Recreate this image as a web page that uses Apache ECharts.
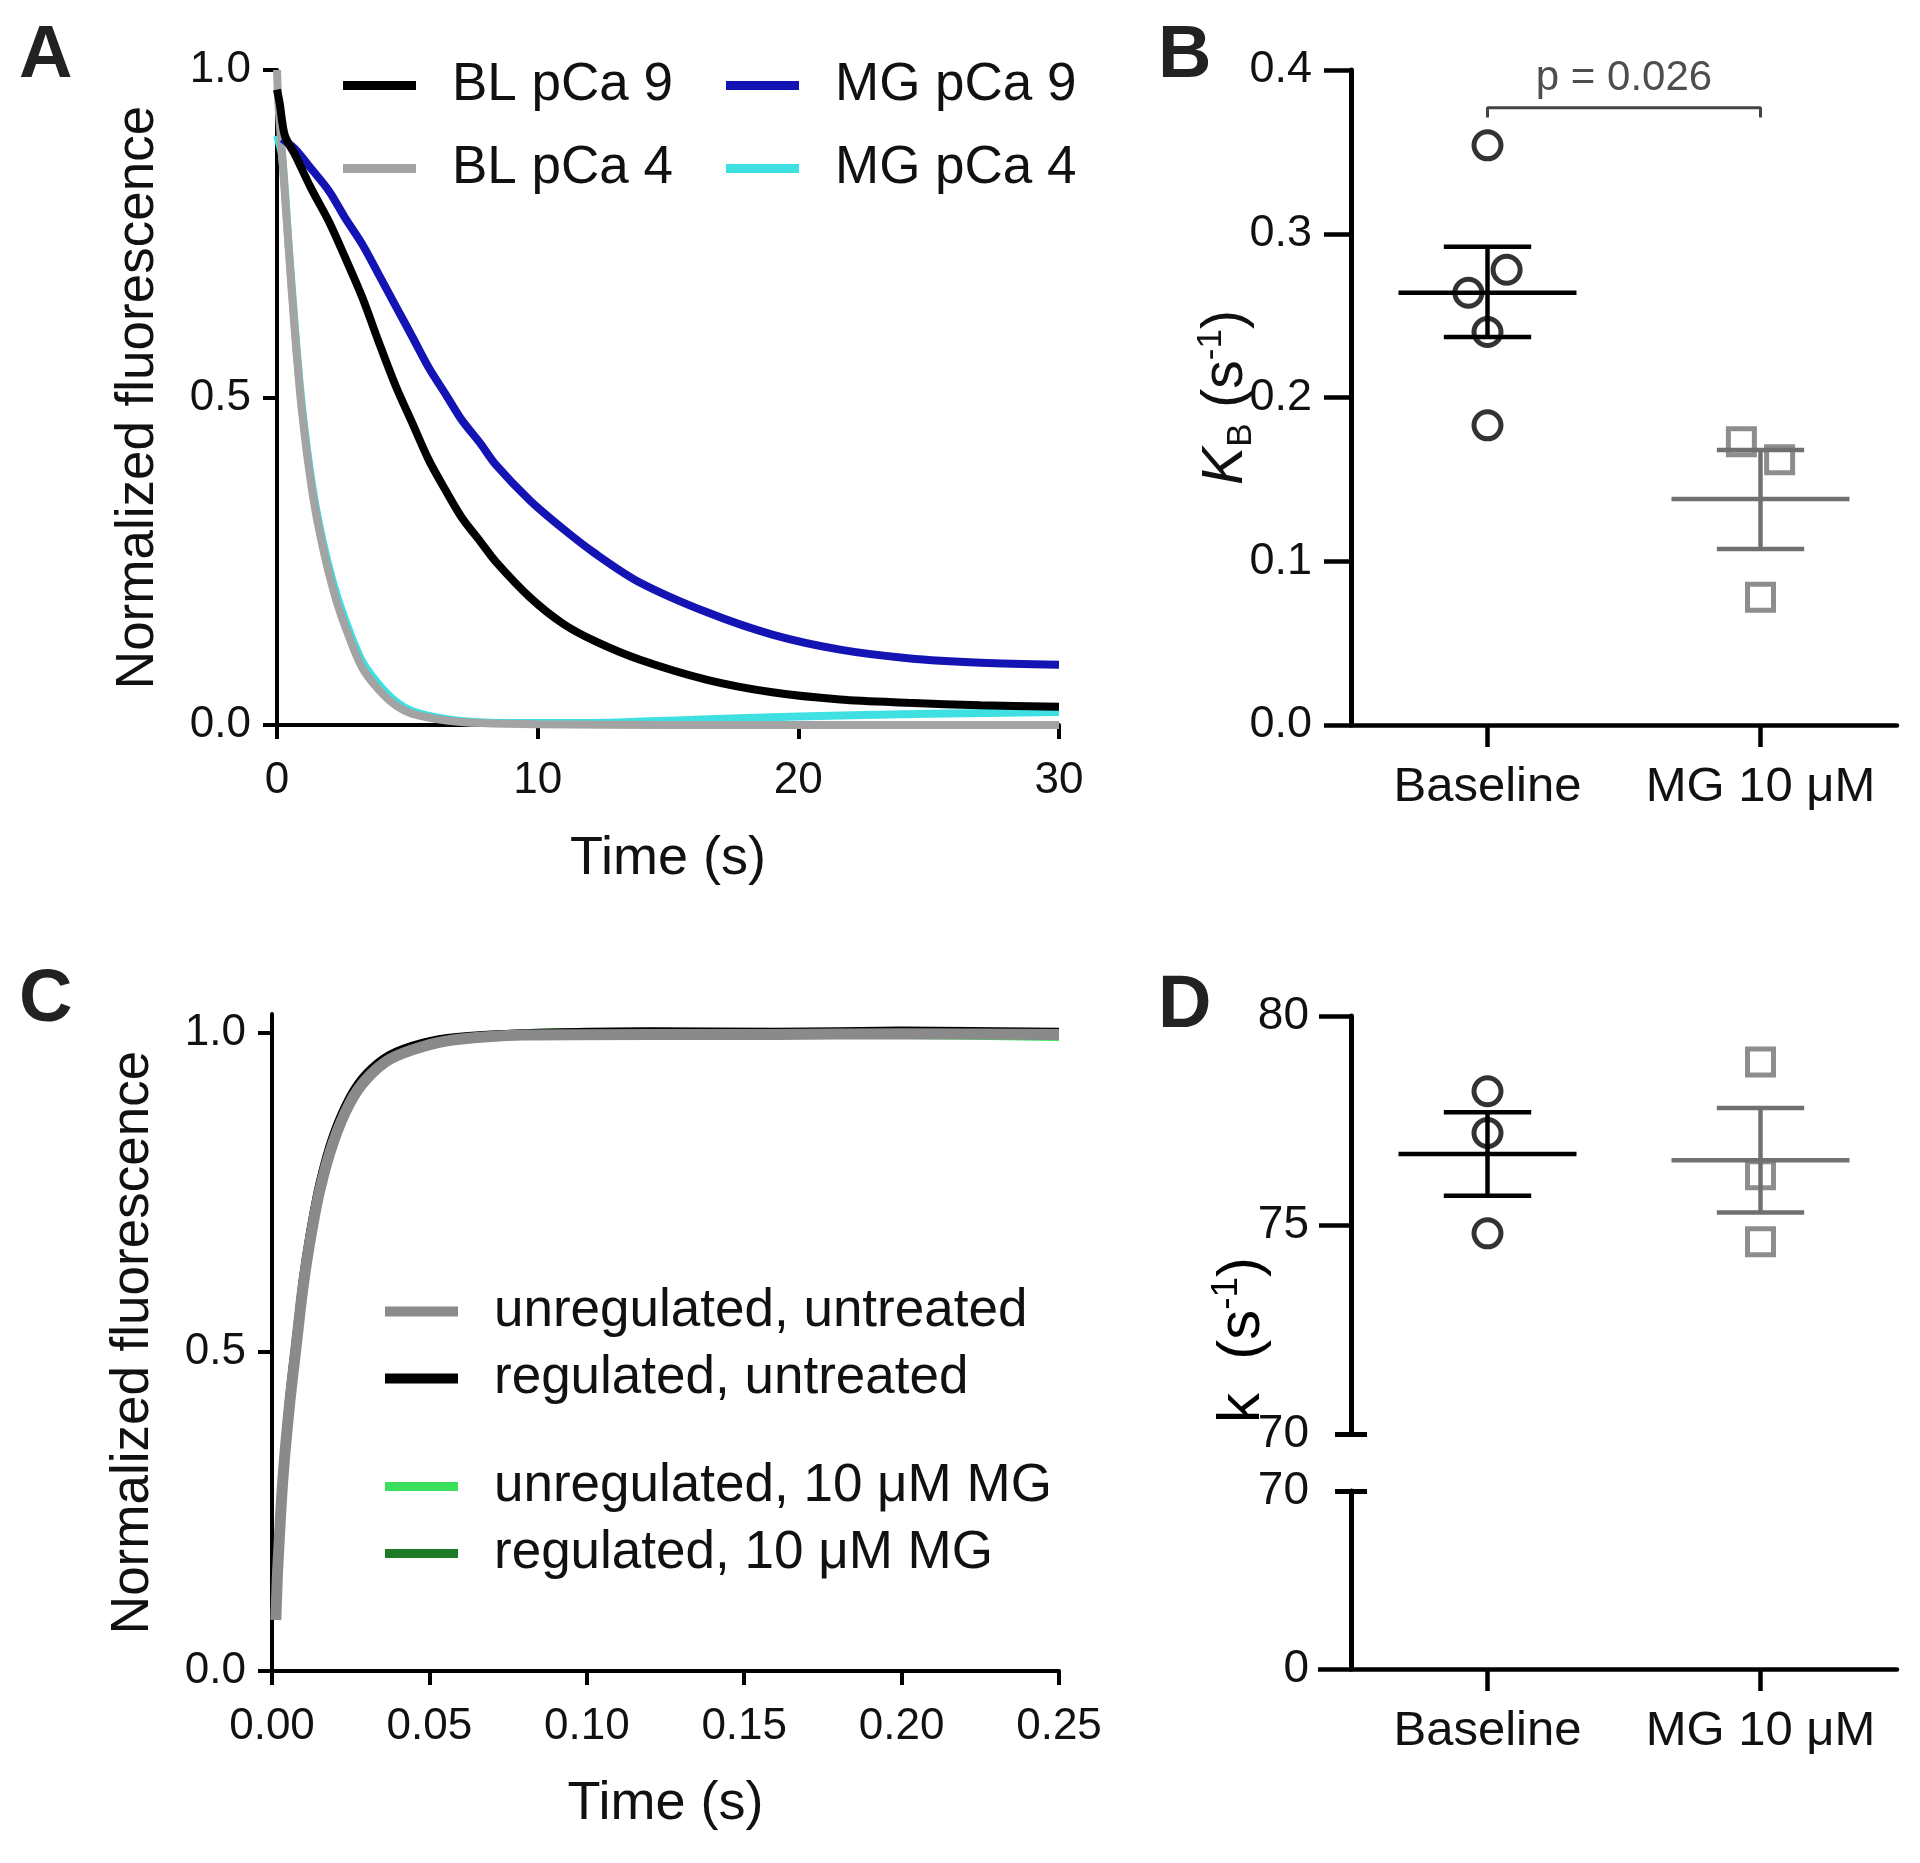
<!DOCTYPE html>
<html>
<head>
<meta charset="utf-8">
<title>Fluorescence decay and rate constants</title>
<script src="https://cdn.jsdelivr.net/npm/echarts@6/dist/echarts.min.js"></script>
<style>
  html, body { margin: 0; padding: 0; background: #fff; }
  #chart { width: 1920px; height: 1863px; }
</style>
</head>
<body>
<div id="chart"></div>
<script>
// ---- Panel A: fluorescence decay, [time s, normalized fluorescence] ----
var blPca9 = [[0, 0.97], [0.1, 0.95], [0.3, 0.9], [0.7, 0.87], [1.3, 0.82], [2.0, 0.768], [2.6, 0.715],
  [3.27, 0.653], [3.9, 0.585], [4.55, 0.518], [5.2, 0.46], [5.83, 0.404], [6.5, 0.356], [7.1, 0.316],
  [7.8, 0.28], [8.4, 0.249], [9.7, 0.195], [10.96, 0.155], [12.2, 0.128], [13.9, 0.1], [16.5, 0.069],
  [19, 0.05], [21.6, 0.039], [24.2, 0.034], [27, 0.03], [30, 0.028]];
var mgPca9 = [[0.2, 0.895], [0.7, 0.879], [1.3, 0.85], [2.0, 0.815], [2.6, 0.775], [3.27, 0.734],
  [3.9, 0.688], [4.55, 0.64], [5.2, 0.592], [5.83, 0.545], [6.5, 0.503], [7.1, 0.465], [7.8, 0.43],
  [8.4, 0.397], [9.7, 0.343], [10.96, 0.3], [12.2, 0.262], [13.9, 0.218], [16.5, 0.172], [19, 0.138],
  [21.6, 0.115], [24.2, 0.102], [27, 0.095], [30, 0.092]];
var blPca4 = [[0, 1.0], [0.05, 0.95], [0.19, 0.875], [0.45, 0.727], [0.7, 0.593], [0.96, 0.478],
  [1.35, 0.357], [1.73, 0.276], [2.24, 0.195], [2.76, 0.135], [3.27, 0.0875], [3.9, 0.054], [4.55, 0.03],
  [5.2, 0.017], [6.5, 0.007], [7.8, 0.003], [10, 0.001], [15, 0.0], [20, 0.0], [25, 0.0], [30, 0.0]];
var mgPca4 = [[0, 0.9], [0.19, 0.87], [0.45, 0.73], [0.7, 0.6], [0.96, 0.485], [1.35, 0.365],
  [1.73, 0.285], [2.24, 0.205], [2.76, 0.145], [3.27, 0.097], [3.9, 0.062], [4.55, 0.036], [5.2, 0.021],
  [6.5, 0.009], [8, 0.004], [10, 0.003], [13, 0.004], [16, 0.008], [20, 0.013], [25, 0.017], [30, 0.02]];

// ---- Panel B: K_B (s^-1), [group position with jitter, value] ----
var groups = ['Baseline', 'MG 10 \u03bcM'];
var kbBaseline = [[0, 0.354], [0.07, 0.278], [-0.07, 0.264], [0, 0.240], [0, 0.183]];
var kbMG = [[0.93, 0.173], [1.07, 0.162], [1, 0.078]];
// [group, mean, mean - SEM, mean + SEM]
var kbSummaryBaseline = [[0, 0.264, 0.237, 0.292]];
var kbSummaryMG = [[1, 0.138, 0.1075, 0.168]];
var pBracket = [[0, 0.371], [0, 0.377], [1, 0.377], [1, 0.371]];
var pLabel = [[0.5, 0.377]];

// ---- Panel C: fluorescence rise, [time s, normalized fluorescence] ----
var unregUntreated = [[0.0012, 0.08], [0.0015, 0.12], [0.0018, 0.159], [0.0034, 0.297], [0.0055, 0.414],
  [0.0077, 0.51], [0.0098, 0.6], [0.0119, 0.669], [0.0151, 0.752], [0.0194, 0.828], [0.0247, 0.89],
  [0.03, 0.928], [0.0374, 0.959], [0.048, 0.979], [0.0587, 0.99], [0.08, 0.997], [0.12, 0.998],
  [0.16, 0.998], [0.2, 0.999], [0.25, 0.998]];
var regUntreated = [[0.0012, 0.09], [0.0018, 0.17], [0.0034, 0.31], [0.0055, 0.43], [0.0077, 0.525],
  [0.0098, 0.615], [0.0119, 0.683], [0.0151, 0.765], [0.0194, 0.84], [0.0247, 0.9], [0.03, 0.937],
  [0.0374, 0.966], [0.048, 0.985], [0.0587, 0.994], [0.08, 1.0], [0.12, 1.003], [0.16, 1.002],
  [0.2, 1.004], [0.25, 1.002]];
var unregMG = [[0.0012, 0.085], [0.0018, 0.165], [0.0034, 0.305], [0.0055, 0.425], [0.0077, 0.52],
  [0.0098, 0.61], [0.0119, 0.678], [0.0151, 0.76], [0.0194, 0.836], [0.0247, 0.897], [0.03, 0.934],
  [0.0374, 0.964], [0.048, 0.984], [0.0587, 0.993], [0.08, 0.999], [0.12, 1.001], [0.16, 0.998],
  [0.2, 0.997], [0.25, 0.994]];
var regMG = [[0.0012, 0.088], [0.0018, 0.168], [0.0034, 0.308], [0.0055, 0.428], [0.0077, 0.522],
  [0.0098, 0.612], [0.0119, 0.68], [0.0151, 0.762], [0.0194, 0.838], [0.0247, 0.898], [0.03, 0.935],
  [0.0374, 0.965], [0.048, 0.984], [0.0587, 0.993], [0.08, 1.0], [0.12, 1.002], [0.16, 1.001],
  [0.2, 1.002], [0.25, 1.0]];

// ---- Panel D: k (s^-1) ----
var kBaseline = [[0, 78.2], [0, 77.2], [0, 74.8]];
var kMG = [[1, 78.9], [1, 76.2], [1, 74.6]];
var kSummaryBaseline = [[0, 76.7, 75.7, 77.7]];
var kSummaryMG = [[1, 76.55, 75.3, 77.8]];

var FONT = "'Liberation Sans', Arial, Helvetica, sans-serif";
var INK = '#111';
var GREY = '#707070';

function curve(name, data, color, width, xi, yi) {
  return {
    name: name, type: 'line', data: data, xAxisIndex: xi, yAxisIndex: yi,
    showSymbol: false, smooth: 0.3,
    lineStyle: { color: color, width: width }, itemStyle: { color: color },
    silent: true
  };
}

// mean line with SEM error bar, width given in x-axis units
function meanSem(params, api) {
  var x = api.value(0);
  var pm = api.coord([x, api.value(1)]);
  var pl = api.coord([x, api.value(2)]);
  var ph = api.coord([x, api.value(3)]);
  var unit = api.size([1, 0])[0];
  var half = unit * 0.326, cap = unit * 0.16;
  var st = { stroke: api.visual('color'), lineWidth: 4.5 };
  return {
    type: 'group', children: [
      { type: 'line', shape: { x1: pm[0] - half, y1: pm[1], x2: pm[0] + half, y2: pm[1] }, style: st },
      { type: 'line', shape: { x1: pl[0] - cap, y1: pl[1], x2: pl[0] + cap, y2: pl[1] }, style: st },
      { type: 'line', shape: { x1: ph[0] - cap, y1: ph[1], x2: ph[0] + cap, y2: ph[1] }, style: st },
      { type: 'line', shape: { x1: pl[0], y1: pl[1], x2: ph[0], y2: ph[1] }, style: st }
    ]
  };
}

function axisLine(w) { return { show: true, onZero: false, lineStyle: { color: '#000', width: w } }; }
function tick(len, w, extra) {
  var t = { show: true, length: len, lineStyle: { color: '#000', width: w } };
  for (var k in extra) t[k] = extra[k];
  return t;
}
function lbl(size, margin, fmt, extra) {
  var l = { fontFamily: FONT, fontSize: size, color: INK, margin: margin, formatter: fmt };
  for (var k in extra) l[k] = extra[k];
  return l;
}
var noSplit = { show: false };
var clearLine = { show: true, onZero: false, lineStyle: { color: 'rgba(0,0,0,0)', width: 1 } };

function richLabel(size) {
  return {
    n: { fontFamily: FONT, fontSize: size, color: INK, lineHeight: size + 8 },
    k: { fontFamily: FONT, fontSize: size, color: INK, fontStyle: 'italic', lineHeight: size + 8 },
    sub: { fontFamily: FONT, fontSize: Math.round(size * 0.62), color: INK, verticalAlign: 'bottom', lineHeight: Math.round(size * 0.62) },
    sup: { fontFamily: FONT, fontSize: Math.round(size * 0.62), color: INK, verticalAlign: 'top', lineHeight: Math.round(size * 0.62) }
  };
}

var myChart = echarts.init(document.getElementById('chart'), null, { renderer: 'canvas' });

var legendText = { fontFamily: FONT, fontSize: 53, color: INK, padding: [0, 0, 0, 31] };

function letter(ch, left, top) {
  return { type: 'text', left: left, top: top,
    style: { text: ch, fontFamily: FONT, fontWeight: 'bold', fontSize: 74, fill: '#222' } };
}

var option = {
  animation: false,
  backgroundColor: '#fff',
  textStyle: { fontFamily: FONT },
  grid: [
    { left: 277, top: 70, width: 782, height: 655 },    // A
    { left: 1351, top: 70, width: 546, height: 655 },   // B
    { left: 272, top: 1014, width: 787, height: 657 },  // C
    { left: 1351, top: 1016, width: 546, height: 418 }, // D upper
    { left: 1351, top: 1491, width: 546, height: 178 }  // D lower
  ],
  legend: [
    { orient: 'vertical', left: 338, top: 54, data: ['BL pCa 9', 'BL pCa 4'], icon: 'rect',
      itemWidth: 73, itemHeight: 9, itemGap: 30, selectedMode: false, textStyle: legendText },
    { orient: 'vertical', left: 721, top: 54, data: ['MG pCa 9', 'MG pCa 4'], icon: 'rect',
      itemWidth: 73, itemHeight: 9, itemGap: 30, selectedMode: false, textStyle: legendText },
    { orient: 'vertical', left: 380, top: 1280, data: ['unregulated, untreated', 'regulated, untreated'],
      icon: 'rect', itemWidth: 73, itemHeight: 10, itemGap: 14, selectedMode: false, textStyle: legendText },
    { orient: 'vertical', left: 380, top: 1455, data: ['unregulated, 10 \u03bcM MG', 'regulated, 10 \u03bcM MG'],
      icon: 'rect', itemWidth: 73, itemHeight: 9, itemGap: 14, selectedMode: false, textStyle: legendText }
  ],
  xAxis: [
    { // 0: A time
      type: 'value', gridIndex: 0, min: 0, max: 30, interval: 10,
      name: 'Time (s)', nameLocation: 'middle', nameGap: 107,
      nameTextStyle: { fontFamily: FONT, fontSize: 54, color: INK },
      axisLine: axisLine(4), axisTick: tick(14, 4), splitLine: noSplit,
      axisLabel: lbl(44, 34, function (v) { return String(v); })
    },
    { // 1: B categories
      type: 'category', gridIndex: 1, data: groups, boundaryGap: true,
      axisLine: axisLine(4.5), axisTick: tick(22, 4.5, { alignWithLabel: true, interval: 0 }), splitLine: noSplit,
      axisLabel: lbl(49, 38, null, { interval: 0 })
    },
    { // 2: B positions
      type: 'value', gridIndex: 1, min: -0.5, max: 1.5, show: false, splitLine: noSplit,
      axisLine: { onZero: false }
    },
    { // 3: C time
      type: 'value', gridIndex: 2, min: 0, max: 0.25, interval: 0.05,
      name: 'Time (s)', nameLocation: 'middle', nameGap: 106,
      nameTextStyle: { fontFamily: FONT, fontSize: 54, color: INK },
      axisLine: axisLine(4), axisTick: tick(14, 4), splitLine: noSplit,
      axisLabel: lbl(44, 34, function (v) { return v.toFixed(2); })
    },
    { // 4: D upper positions
      type: 'value', gridIndex: 3, min: -0.5, max: 1.5, show: false, splitLine: noSplit,
      axisLine: { onZero: false }
    },
    { // 5: D lower categories
      type: 'category', gridIndex: 4, data: groups, boundaryGap: true,
      axisLine: axisLine(4.5), axisTick: tick(22, 4.5, { alignWithLabel: true, interval: 0 }), splitLine: noSplit,
      axisLabel: lbl(49, 38, null, { interval: 0 })
    }
  ],
  yAxis: [
    { // 0: A
      type: 'value', gridIndex: 0, min: 0, max: 1, interval: 0.5,
      name: 'Normalized fluorescence', nameLocation: 'middle', nameGap: 112,
      nameTextStyle: { fontFamily: FONT, fontSize: 53, color: INK },
      axisLine: axisLine(4), axisTick: tick(14, 4), splitLine: noSplit,
      axisLabel: lbl(44, 26, function (v) { return v.toFixed(1); })
    },
    { // 1: B
      type: 'value', gridIndex: 1, min: 0, max: 0.4, interval: 0.1,
      name: '{k|K}{sub|B}{n| (s}{sup|-1}{n|)}', nameLocation: 'middle', nameGap: 92,
      nameMoveOverlap: false,
      nameTextStyle: { rich: richLabel(57) },
      axisLine: axisLine(5), axisTick: tick(27, 4.5), splitLine: noSplit,
      axisLabel: lbl(45, 39, function (v) { return v.toFixed(1); })
    },
    { // 2: C
      type: 'value', gridIndex: 2, min: 0, max: 1.03,
      name: 'Normalized fluorescence', nameLocation: 'middle', nameGap: 112,
      nameTextStyle: { fontFamily: FONT, fontSize: 53, color: INK },
      axisLine: axisLine(4), axisTick: tick(14, 4, { customValues: [0, 0.5, 1] }), splitLine: noSplit,
      axisLabel: lbl(44, 26, function (v) { return v.toFixed(1); }, { customValues: [0, 0.5, 1] })
    },
    { // 3: D upper
      type: 'value', gridIndex: 3, min: 70, max: 80, interval: 5,
      axisLine: axisLine(5), axisTick: tick(32, 4.5, { customValues: [75, 80] }), splitLine: noSplit,
      axisLabel: lbl(46, 42, null, { customValues: [70, 75, 80] })
    },
    { // 4: D upper break mark
      type: 'value', gridIndex: 3, min: 70, max: 80, position: 'left', offset: -16,
      axisLine: clearLine, axisTick: tick(32, 5, { customValues: [70] }),
      axisLabel: { show: false }, splitLine: noSplit
    },
    { // 5: D lower
      type: 'value', gridIndex: 4, min: 0, max: 70, interval: 70,
      axisLine: axisLine(5), axisTick: tick(33, 4.5, { customValues: [0] }), splitLine: noSplit,
      axisLabel: lbl(46, 42, null, { customValues: [0, 70] })
    },
    { // 6: D lower break mark
      type: 'value', gridIndex: 4, min: 0, max: 70, position: 'left', offset: -16,
      axisLine: clearLine, axisTick: tick(32, 5, { customValues: [70] }),
      axisLabel: { show: false }, splitLine: noSplit
    }
  ],
  series: [
    // A
    curve('MG pCa 4', mgPca4, '#3fe0e2', 8, 0, 0),
    curve('BL pCa 4', blPca4, '#a3a3a3', 8, 0, 0),
    curve('MG pCa 9', mgPca9, '#1414b4', 8, 0, 0),
    curve('BL pCa 9', blPca9, '#000000', 8, 0, 0),
    // C
    curve('unregulated, 10 \u03bcM MG', unregMG, '#3ae05c', 8, 3, 2),
    curve('regulated, 10 \u03bcM MG', regMG, '#1d7a26', 8, 3, 2),
    curve('regulated, untreated', regUntreated, '#000000', 8, 3, 2),
    curve('unregulated, untreated', unregUntreated, '#8a8a8a', 11, 3, 2),
    // B
    { type: 'custom', xAxisIndex: 2, yAxisIndex: 1, renderItem: meanSem, data: kbSummaryBaseline,
      itemStyle: { color: '#000' }, silent: true },
    { type: 'custom', xAxisIndex: 2, yAxisIndex: 1, renderItem: meanSem, data: kbSummaryMG,
      itemStyle: { color: GREY }, silent: true },
    { type: 'scatter', xAxisIndex: 2, yAxisIndex: 1, data: kbBaseline, symbol: 'circle', symbolSize: 27,
      itemStyle: { color: 'rgba(0,0,0,0)', borderColor: '#000', borderWidth: 5 }, silent: true },
    { type: 'scatter', xAxisIndex: 2, yAxisIndex: 1, data: kbMG, symbol: 'rect', symbolSize: 26,
      itemStyle: { color: 'rgba(0,0,0,0)', borderColor: GREY, borderWidth: 5 }, silent: true },
    { type: 'line', xAxisIndex: 2, yAxisIndex: 1, data: pBracket, showSymbol: false, silent: true,
      lineStyle: { color: '#444', width: 3 } },
    { type: 'scatter', xAxisIndex: 2, yAxisIndex: 1, data: pLabel, symbolSize: 0, silent: true,
      label: { show: true, position: 'top', distance: 8, formatter: 'p = 0.026',
        fontFamily: FONT, fontSize: 42, color: '#222' } },
    // D
    { type: 'custom', xAxisIndex: 4, yAxisIndex: 3, renderItem: meanSem, data: kSummaryBaseline,
      itemStyle: { color: '#000' }, silent: true },
    { type: 'custom', xAxisIndex: 4, yAxisIndex: 3, renderItem: meanSem, data: kSummaryMG,
      itemStyle: { color: GREY }, silent: true },
    { type: 'scatter', xAxisIndex: 4, yAxisIndex: 3, data: kBaseline, symbol: 'circle', symbolSize: 27,
      itemStyle: { color: 'rgba(0,0,0,0)', borderColor: '#000', borderWidth: 5 }, silent: true },
    { type: 'scatter', xAxisIndex: 4, yAxisIndex: 3, data: kMG, symbol: 'rect', symbolSize: 26,
      itemStyle: { color: 'rgba(0,0,0,0)', borderColor: GREY, borderWidth: 5 }, silent: true }
  ],
  graphic: [
    letter('A', 19, 20),
    letter('B', 1158, 20),
    letter('C', 19, 964),
    letter('D', 1158, 970),
    { type: 'text', x: 1242, y: 1340, rotation: Math.PI / 2,
      style: { text: '{n|k  (s}{sup|-1}{n|)}', rich: richLabel(60), align: 'center', verticalAlign: 'middle' } }
  ]
};

option && myChart.setOption(option);
</script>
</body>
</html>
